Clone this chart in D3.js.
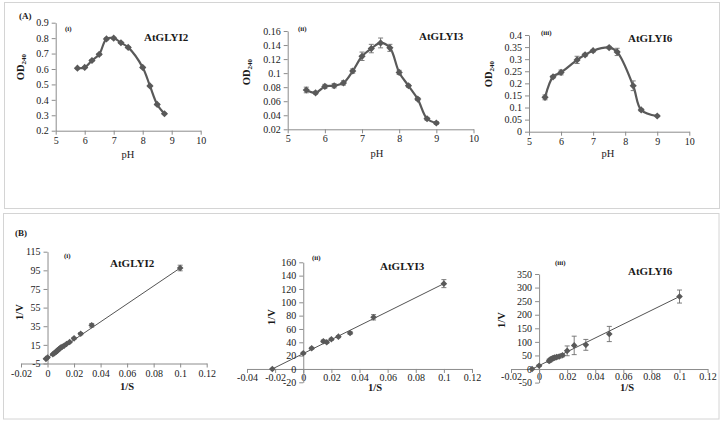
<!DOCTYPE html>
<html><head><meta charset="utf-8">
<script src="https://cdn.jsdelivr.net/npm/d3@7"></script>
<style>
body{margin:0;background:#fff}
svg{display:block}
text{font-family:"Liberation Serif","Times New Roman",serif;fill:#1a1a1a}
</style>
</head><body>
<svg id="c" width="724" height="423"></svg>
<script>
// ---------- DATA ----------
// (A) pH profiles
const phGLYI2 = [5.75,6,6.25,6.5,6.75,7,7.25,7.5,8,8.25,8.5,8.75];
const odGLYI2 = [0.605,0.61,0.655,0.695,0.795,0.80,0.77,0.74,0.61,0.49,0.37,0.31];
const errGLYI2 = [0.004,0.004,0.005,0.005,0.006,0.006,0.005,0.005,0.005,0.005,0.005,0.004];

const phGLYI3 = [5.5,5.75,6,6.25,6.5,6.75,7,7.25,7.5,7.75,8,8.25,8.5,8.75,9];
const odGLYI3 = [0.076,0.072,0.081,0.082,0.086,0.103,0.124,0.135,0.143,0.136,0.101,0.082,0.063,0.035,0.029];
const errGLYI3 = [0.004,0.002,0.003,0.003,0.003,0.003,0.006,0.006,0.007,0.005,0.003,0.002,0.002,0.002,0.002];

const phGLYI6 = [5.5,5.75,6,6.5,6.75,7,7.5,7.75,8.25,8.5,9];
const odGLYI6 = [0.142,0.227,0.245,0.297,0.318,0.335,0.348,0.33,0.19,0.09,0.065];
const errGLYI6 = [0.01,0.005,0.01,0.015,0.006,0.005,0.005,0.015,0.02,0.005,0.003];

// (B) Lineweaver-Burk plots
const invS_GLYI2 = [-0.0012,0,0.004,0.005,0.006,0.0067,0.0071,0.0077,0.0083,0.0091,0.01,0.0111,0.0125,0.0143,0.0167,0.02,0.025,0.0333,0.1];
const invV_GLYI2 = [0,1.5,5,6,7,8,8.5,9,10,11,12,13,14,16,18,22,27,36,97.5];
const errV_GLYI2 = [0.5,0.5,0.5,0.5,0.5,0.5,0.5,0.5,0.5,0.5,0.5,0.5,0.5,0.6,0.8,1,1.2,2,3];
const fitS_GLYI2 = [-0.0012,0.1];
const fitV_GLYI2 = [0,97.5];

const invS_GLYI3 = [-0.022,0,0.006,0.0143,0.0167,0.02,0.025,0.0333,0.05,0.1];
const invV_GLYI3 = [0,23.5,31,41.5,40,44.5,48.5,54,77.5,128];
const errV_GLYI3 = [0,1.5,1.5,2,1.5,1.5,1.5,2,4,6];
const fitS_GLYI3 = [-0.022,0.1];
const fitV_GLYI3 = [0,128];

const invS_GLYI6 = [-0.005,0,0.0071,0.0077,0.0083,0.0091,0.01,0.0111,0.0125,0.0143,0.0167,0.02,0.025,0.0333,0.05,0.1];
const invV_GLYI6 = [0,12,30,32,35,38,40,42,44,46,51,67,87,89,129,267];
const errV_GLYI6 = [0,3,6,6,6,6,6,6,6,6,6,18,34,20,28,24];
const fitS_GLYI6 = [-0.005,0.1];
const fitV_GLYI6 = [0,267];

// tick labels
const ticksPH = [5,6,7,8,9,10];
const ticksOD2 = [0.2,0.3,0.4,0.5,0.6,0.7,0.8,0.9];
const ticksOD3 = [0.02,0.04,0.06,0.08,0.1,0.12,0.14,0.16];
const ticksOD6 = [0,0.05,0.1,0.15,0.2,0.25,0.3,0.35,0.4];
const ticksS1 = [-0.02,0,0.02,0.04,0.06,0.08,0.1,0.12];
const ticksS2 = [-0.04,-0.02,0,0.02,0.04,0.06,0.08,0.1,0.12];
const ticksV1 = [-5,15,35,55,75,95,115];
const ticksV2 = [-20,0,20,40,60,80,100,120,140,160];
const ticksV3 = [-50,0,50,100,150,200,250,300,350];

// ---------- DRAW ----------
const svg = d3.select("#c");
const frameC = "#d4d4d4", axisC = "#8c8c8c", markC = "#595959";

svg.append("rect").attr("x",4.5).attr("y",2.5).attr("width",715).attr("height",206)
  .attr("fill","none").attr("stroke",frameC);
svg.append("rect").attr("x",3.5).attr("y",213.5).attr("width",715.5).attr("height",205.5)
  .attr("fill","none").attr("stroke",frameC);
svg.append("text").attr("x",19).attr("y",19).attr("font-size",9).attr("font-weight","bold").text("(A)");
svg.append("text").attr("x",15).attr("y",236).attr("font-size",9).attr("font-weight","bold").text("(B)");

const fmt = v => String(+v.toFixed(4));
const diamond = r => `M0,${-r}L${r},0L0,${r}L${-r},0Z`;

const panels = [
 {xs:phGLYI2, ys:odGLYI2, es:errGLYI2, xr:[55.7,200.7], yr:[130.7,22.7], xd:[5,10], yd:[0.2,0.9],
  xt:ticksPH, yt:ticksOD2, xAxisAt:0.2, yAxisAt:5, smooth:true, pad:2,
  title:"AtGLYI2", tp:[144,41], tag:"(i)", gp:[65,31], ylab:"OD", yp:[24,67], xlab:"pH", xp:[128,158], xlabBold:false},
 {xs:phGLYI3, ys:odGLYI3, es:errGLYI3, xr:[287.7,473.5], yr:[129.3,31], xd:[5,10], yd:[0.02,0.16],
  xt:ticksPH, yt:ticksOD3, xAxisAt:0.02, yAxisAt:5, smooth:true, pad:2,
  title:"AtGLYI3", tp:[419,40], tag:"(ii)", gp:[298,31], ylab:"OD", yp:[250,72], xlab:"pH", xp:[377,157], xlabBold:false},
 {xs:phGLYI6, ys:odGLYI6, es:errGLYI6, xr:[529,689.3], yr:[131.7,35], xd:[5,10], yd:[0,0.4],
  xt:ticksPH, yt:ticksOD6, xAxisAt:0, yAxisAt:5, smooth:true, pad:2,
  title:"AtGLYI6", tp:[628,42], tag:"(iii)", gp:[541,35], ylab:"OD", yp:[492,74], xlab:"pH", xp:[608,157], xlabBold:false},
 {xs:invS_GLYI2, ys:invV_GLYI2, es:errV_GLYI2, fx:fitS_GLYI2, fy:fitV_GLYI2, xr:[21,206.7], yr:[363.5,251.7], xd:[-0.02,0.12], yd:[-5,115],
  xt:ticksS1, yt:ticksV1, xAxisAt:-5, yAxisAt:0, smooth:false, pad:2,
  title:"AtGLYI2", tp:[110,267], tag:"(i)", gp:[64,258], ylab:"1/V", yp:[23,312], xlab:"1/S", xp:[127,390], xlabBold:true},
 {xs:invS_GLYI3, ys:invV_GLYI3, es:errV_GLYI3, fx:fitS_GLYI3, fy:fitV_GLYI3, xr:[247,472], yr:[382.3,262.3], xd:[-0.04,0.12], yd:[-20,160],
  xt:ticksS2, yt:ticksV2, xAxisAt:0, yAxisAt:0, smooth:false, pad:1,
  title:"AtGLYI3", tp:[380,270], tag:"(ii)", gp:[312,260], ylab:"1/V", yp:[275,317], xlab:"1/S", xp:[375,391], xlabBold:true},
 {xs:invS_GLYI6, ys:invV_GLYI6, es:errV_GLYI6, fx:fitS_GLYI6, fy:fitV_GLYI6, xr:[511,707.6], yr:[382.6,274], xd:[-0.02,0.12], yd:[-50,350],
  xt:ticksS1, yt:ticksV3, xAxisAt:0, yAxisAt:0, smooth:false, pad:0,
  title:"AtGLYI6", tp:[628,275], tag:"(iii)", gp:[555,265], ylab:"1/V", yp:[505,320], xlab:"1/S", xp:[627,391], xlabBold:true}
];

panels.forEach(p => {
  const x = d3.scaleLinear().domain(p.xd).range(p.xr);
  const y = d3.scaleLinear().domain(p.yd).range(p.yr);
  const g = svg.append("g");

  const ax = g.append("g").attr("transform",`translate(0,${y(p.xAxisAt)})`)
    .call(d3.axisBottom(x).tickValues(p.xt).tickFormat(fmt).tickSize(4).tickSizeOuter(0).tickPadding(p.pad));
  const ay = g.append("g").attr("transform",`translate(${x(p.yAxisAt)},0)`)
    .call(d3.axisLeft(y).tickValues(p.yt).tickFormat(fmt).tickSize(4).tickSizeOuter(0).tickPadding(3));
  [ax,ay].forEach(a => {
    a.attr("font-family",null);
    a.selectAll("path,line").attr("stroke",axisC);
    a.selectAll("text").attr("font-size",10).attr("fill","#1a1a1a");
  });

  const pts = p.xs.map((v,i) => ({x:v, y:p.ys[i], e:p.es[i]}));

  if (p.smooth) {
    g.append("path").datum(pts)
      .attr("d", d3.line().x(d=>x(d.x)).y(d=>y(d.y)).curve(d3.curveCatmullRom.alpha(0.5)))
      .attr("fill","none").attr("stroke",markC).attr("stroke-width",2.2);
  } else {
    g.append("line").attr("x1",x(p.fx[0])).attr("y1",y(p.fy[0])).attr("x2",x(p.fx[1])).attr("y2",y(p.fy[1]))
      .attr("stroke","#404040").attr("stroke-width",0.9);
  }

  // error bars
  const eb = g.append("g").attr("stroke","#6e6e6e").attr("stroke-width",0.9);
  pts.filter(d=>d.e>0).forEach(d => {
    const cx = x(d.x), y1 = y(d.y+d.e), y2 = y(d.y-d.e);
    eb.append("line").attr("x1",cx).attr("x2",cx).attr("y1",y1).attr("y2",y2);
    eb.append("line").attr("x1",cx-2.5).attr("x2",cx+2.5).attr("y1",y1).attr("y2",y1);
    eb.append("line").attr("x1",cx-2.5).attr("x2",cx+2.5).attr("y1",y2).attr("y2",y2);
  });

  g.selectAll("path.mk").data(pts).join("path").attr("class","mk")
    .attr("d", diamond(p.smooth ? 3.6 : 3.3))
    .attr("transform", d=>`translate(${x(d.x)},${y(d.y)})`)
    .attr("fill",markC);

  g.append("text").attr("x",p.tp[0]).attr("y",p.tp[1]).attr("font-size",11).attr("font-weight","bold").text(p.title);
  g.append("text").attr("x",p.gp[0]).attr("y",p.gp[1]).attr("font-size",7).attr("font-weight","bold").text(p.tag);
  g.append("text").attr("x",p.xp[0]).attr("y",p.xp[1]).attr("font-size",10.5).attr("text-anchor","middle")
    .attr("font-weight",p.xlabBold?"bold":"normal").text(p.xlab);

  const yl = g.append("text").attr("transform",`translate(${p.yp[0]},${p.yp[1]}) rotate(-90)`)
    .attr("font-size",10.5).attr("font-weight","bold").attr("text-anchor","middle");
  if (p.ylab === "OD") {
    yl.append("tspan").text("OD");
    yl.append("tspan").attr("font-size",7).attr("dy",2).text("240");
  } else {
    yl.text(p.ylab);
  }
});
</script>
</body></html>
